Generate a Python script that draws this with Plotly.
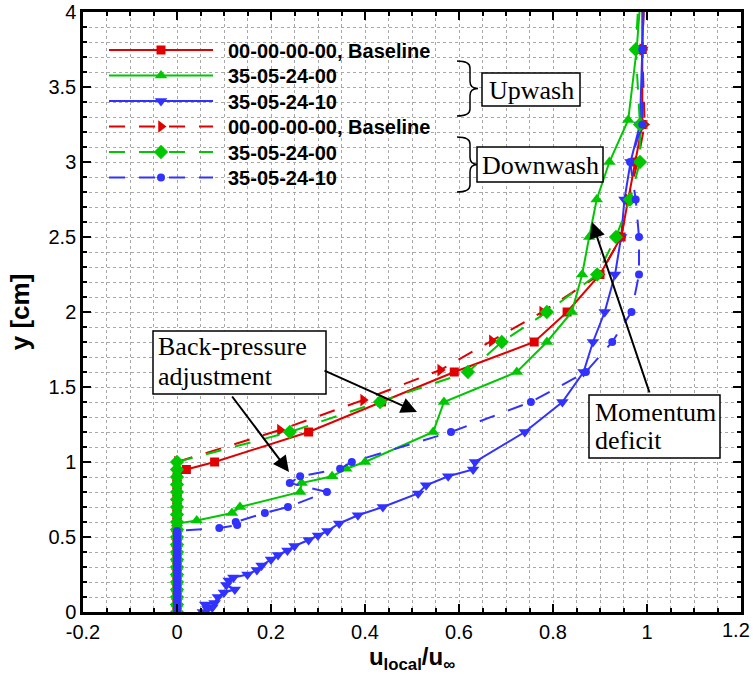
import plotly.graph_objects as go

# ---------------- data ----------------
# Upwash, 00-00-00-00 Baseline (red solid, squares)
u_base_up = [0, 0, 0, 0, 0, 0, 0, 0, 0, 0, 0, 0, 0, 0, 0, 0, 0, 0, 0,
             0.02, 0.08, 0.28, 0.435, 0.59, 0.76, 0.83, 0.90, 0.945, 0.96, 0.975, 0.99, 0.99, 0.99]
y_base_up = [0.0, 0.05, 0.1, 0.15, 0.2, 0.25, 0.3, 0.35, 0.4, 0.45, 0.5, 0.55, 0.6, 0.65, 0.7, 0.75, 0.8, 0.85, 0.9,
             0.95, 1.0, 1.2, 1.4, 1.6, 1.8, 2.0, 2.25, 2.5, 2.75, 3.0, 3.25, 3.75, 4.25]

# Upwash, 35-05-24-00 (green solid, triangles up)
u_a_up = [0, 0, 0, 0, 0, 0, 0, 0, 0, 0, 0, 0, 0,
          0.042, 0.117, 0.134, 0.262, 0.265, 0.33, 0.36, 0.40, 0.545, 0.568, 0.723, 0.787, 0.84,
          0.862, 0.877, 0.893, 0.92, 0.96, 0.978, 0.99]
y_a_up = [0.0, 0.05, 0.1, 0.15, 0.2, 0.25, 0.3, 0.35, 0.4, 0.45, 0.5, 0.55, 0.59,
          0.61, 0.66, 0.70, 0.80, 0.86, 0.905, 0.955, 1.0, 1.2, 1.4, 1.6, 1.8, 2.0,
          2.25, 2.5, 2.75, 3.0, 3.28, 3.75, 4.25]

# Upwash, 35-05-24-10 (blue solid, triangles down)
u_b_up = [0.055, 0.065, 0.075, 0.06, 0.08, 0.087, 0.10, 0.123, 0.105, 0.11, 0.12, 0.15, 0.17, 0.18,
          0.20, 0.215, 0.235, 0.25, 0.28, 0.30, 0.32, 0.345, 0.385, 0.438, 0.513, 0.53, 0.577,
          0.63, 0.634, 0.74, 0.82, 0.865, 0.885, 0.91, 0.932, 0.945, 0.952, 0.965, 0.985, 0.99, 0.995]
y_b_up = [0.0, 0.02, 0.03, 0.05, 0.06, 0.10, 0.13, 0.15, 0.18, 0.21, 0.23, 0.25, 0.28, 0.31,
          0.35, 0.38, 0.41, 0.44, 0.48, 0.51, 0.54, 0.59, 0.645, 0.70, 0.79, 0.845, 0.905,
          0.95, 1.0, 1.2, 1.4, 1.6, 1.8, 2.0, 2.25, 2.5, 2.75, 3.0, 3.25, 3.75, 4.25]

# Downwash, 00-00-00-00 Baseline (red dashed, triangles right)
u_base_dn = [0, 0, 0, 0, 0, 0, 0, 0, 0, 0, 0, 0, 0, 0, 0, 0, 0, 0, 0, 0, 0,
             0.219, 0.396, 0.56, 0.67, 0.777, 0.90, 0.945, 0.96, 0.98, 0.995, 0.99, 0.995]
y_base_dn = [0.0, 0.05, 0.1, 0.15, 0.2, 0.25, 0.3, 0.35, 0.4, 0.45, 0.5, 0.55, 0.6, 0.65, 0.7, 0.75, 0.8, 0.85, 0.9, 0.95, 1.0,
             1.213, 1.413, 1.613, 1.807, 2.0, 2.25, 2.5, 2.75, 3.0, 3.25, 3.75, 4.25]

# Downwash, 35-05-24-00 (green dashed, diamonds)
u_a_dn = [0, 0, 0, 0, 0, 0, 0, 0, 0, 0, 0, 0, 0, 0, 0, 0, 0, 0, 0, 0, 0,
          0.24, 0.432, 0.619, 0.691, 0.787, 0.894, 0.934, 0.964, 0.985, 0.985, 0.976, 0.985]
y_a_dn = [0.0, 0.05, 0.1, 0.15, 0.2, 0.25, 0.3, 0.35, 0.4, 0.45, 0.5, 0.55, 0.6, 0.65, 0.7, 0.75, 0.8, 0.85, 0.9, 0.95, 1.0,
          1.2, 1.4, 1.6, 1.8, 2.0, 2.25, 2.5, 2.75, 3.0, 3.25, 3.75, 4.25]

# Downwash, 35-05-24-10 (blue dashed, circles)
u_b_dn = [0, 0, 0, 0, 0, 0, 0, 0, 0, 0, 0, 0, 0, 0, 0, 0, 0, 0, 0, 0, 0, 0, 0, 0, 0, 0, 0, 0,
          0.09, 0.128, 0.125, 0.187, 0.236, 0.319, 0.24, 0.262, 0.347, 0.372, 0.583, 0.753, 0.87,
          0.926, 0.967, 0.983, 0.983, 0.976, 0.964, 0.99, 0.99, 0.995]
y_b_dn = [0.0, 0.02, 0.04, 0.06, 0.08, 0.10, 0.12, 0.14, 0.16, 0.18, 0.20, 0.22, 0.24, 0.26, 0.28, 0.30,
          0.32, 0.34, 0.36, 0.38, 0.40, 0.42, 0.44, 0.46, 0.48, 0.50, 0.52, 0.54,
          0.56, 0.58, 0.60, 0.66, 0.70, 0.80, 0.86, 0.905, 0.955, 1.0, 1.2, 1.4, 1.6,
          1.8, 2.0, 2.25, 2.5, 2.75, 3.0, 3.25, 3.75, 4.25]

names = ["00-00-00-00, Baseline", "35-05-24-00", "35-05-24-10",
         "00-00-00-00, Baseline", "35-05-24-00", "35-05-24-10"]

x_tick_vals = [-0.2, 0, 0.2, 0.4, 0.6, 0.8, 1.0, 1.2]
x_tick_text = ["-0.2", "0", "0.2", "0.4", "0.6", "0.8", "1", "1.2"]

RED, GREEN, BLUE = "#e00000", "#00c800", "#3232ff"
DASH = "16px,14px"

series = [
    (u_base_up, y_base_up, RED, "solid", "square", 9),
    (u_a_up, y_a_up, GREEN, "solid", "triangle-up", 11),
    (u_b_up, y_b_up, BLUE, "solid", "triangle-down", 11),
    (u_base_dn, y_base_dn, RED, DASH, "triangle-right", 11),
    (u_a_dn, y_a_dn, GREEN, DASH, "diamond", 11),
    (u_b_dn, y_b_dn, BLUE, DASH, "circle", 8),
]

# ---- layout geometry (reference pixel coordinates; page body margin removed) ----
W, H = 753, 674
PL, PR, PT, PB = 83, 741, 12, 612          # plot frame in reference pixels
L, T, R, B = PL, PT, W - PR, H - PB
PW, PH = PR - PL, PB - PT


def px2x(px):
    return -0.2 + (px - PL) / PW * 1.4


def py2y(py):
    return (PB - py) / PH * 4.0


legend_rows = [50, 75.5, 101, 126.5, 152, 177.5]
legend_ids = ["legend", "legend2", "legend3", "legend4", "legend5", "legend6"]

fig = go.Figure()
for (xs, ys, col, dash, sym, ms), nm, lid in zip(series, names, legend_ids):
    fig.add_trace(go.Scatter(
        x=xs, y=ys, name="\u2002" + nm, mode="lines+markers", legend=lid,
        line=dict(color=col, width=2, dash=dash),
        marker=dict(symbol=sym, size=ms, color=col, line=dict(width=0)),
    ))

legend_font = dict(family="Liberation Sans", size=20, color="black", weight="bold")
legend_layout = {}
for lid, row in zip(legend_ids, legend_rows):
    legend_layout[lid] = dict(x=(104 - PL) / PW, y=(PB - row) / PH, xanchor="left", yanchor="middle",
                              bgcolor="rgba(0,0,0,0)", borderwidth=0, itemwidth=104,
                              font=legend_font)

shapes = []
annotations = []
serif = dict(family="Liberation Serif", size=26, color="black")
sans = dict(family="Liberation Sans", size=20, color="black")


def box(x0, y0, x1, y1):
    shapes.append(dict(type="rect", xref="x", yref="y",
                       x0=px2x(x0), x1=px2x(x1), y0=py2y(y0), y1=py2y(y1),
                       line=dict(color="black", width=1.5), fillcolor="white", layer="above"))


def text(t, px, py, xanchor="center"):
    annotations.append(dict(text=t, x=px2x(px), y=py2y(py), xref="x", yref="y",
                            showarrow=False, font=serif, xanchor=xanchor, yanchor="middle"))


def arrow(tx, ty, hx, hy):
    annotations.append(dict(text="", x=px2x(hx), y=py2y(hy), ax=px2x(tx), ay=py2y(ty),
                            xref="x", yref="y", axref="x", ayref="y", showarrow=True,
                            arrowhead=2, arrowsize=1.6, arrowwidth=2, arrowcolor="black",
                            standoff=0, startstandoff=0))


def brace(xl, ytop, ybot):
    xm = xl + 13
    xt = xl + 21
    ymid = (ytop + ybot) / 2
    d = 7
    pts = [
        f"M{px2x(xl)},{py2y(ytop)}",
        f"Q{px2x(xm)},{py2y(ytop)} {px2x(xm)},{py2y(ytop + d)}",
        f"L{px2x(xm)},{py2y(ymid - d)}",
        f"Q{px2x(xm)},{py2y(ymid)} {px2x(xt)},{py2y(ymid)}",
        f"Q{px2x(xm)},{py2y(ymid)} {px2x(xm)},{py2y(ymid + d)}",
        f"L{px2x(xm)},{py2y(ybot - d)}",
        f"Q{px2x(xm)},{py2y(ybot)} {px2x(xl)},{py2y(ybot)}",
    ]
    shapes.append(dict(type="path", xref="x", yref="y", path=" ".join(pts),
                       line=dict(color="black", width=1.5), layer="above"))


# Upwash / Downwash
brace(457, 61, 116)
box(482, 73, 580, 106)
text("Upwash", 531, 90)
brace(457, 137, 192)
box(477, 147, 603, 182)
text("Downwash", 540, 165)

# Back-pressure adjustment
arrow(323, 370, 417, 412)
arrow(231, 395, 289, 472)
box(153, 331, 326, 394)
text("Back-pressure", 156, 346, "left")
text("adjustment", 156, 376, "left")

# Momentum deficit
arrow(650, 394, 592, 222)
box(589, 395, 720, 458)
text("Momentum", 593, 412, "left")
text("deficit", 593, 440, "left")

# last x tick label sits at the page edge: draw it right-aligned so it is not cut
x_tick_shown = x_tick_text[:-1] + [""]
annotations.append(dict(text=x_tick_text[-1], xref="paper", yref="paper",
                        x=(752 - PL) / PW, y=0, xanchor="right", yanchor="top", yshift=-5,
                        showarrow=False, font=sans))

axis_common = dict(
    ticks="inside", tickwidth=2, tickcolor="black", ticklen=8,
    showline=True, linewidth=2.5, linecolor="black", mirror="ticks",
    showgrid=True, gridcolor="#a8a8a8", griddash="dot", gridwidth=1,
    zeroline=False, automargin=False, ticklabeloverflow="allow",
    tickfont=sans,
)

fig.update_xaxes(range=[-0.2, 1.2], tickmode="array", tickvals=x_tick_vals, ticktext=x_tick_shown,
                 minor=dict(tickmode="linear", dtick=0.05, tick0=0, ticks="inside", ticklen=4, tickwidth=1.5,
                            tickcolor="black", showgrid=True, gridcolor="#a8a8a8", griddash="dot", gridwidth=1),
                 title=dict(text="<b>u<sub>local</sub>/u<sub>∞</sub></b>", standoff=2,
                            font=dict(family="Liberation Sans", size=24, color="black")),
                 **axis_common)
fig.update_yaxes(range=[0, 4], dtick=0.5, tick0=0,
                 minor=dict(dtick=0.1, tick0=0, ticks="inside", ticklen=4, tickwidth=1.5, tickcolor="black",
                            showgrid=True, gridcolor="#a8a8a8", griddash="dot", gridwidth=1),
                 title=dict(text="<b>y [cm]</b>", standoff=12,
                            font=dict(family="Liberation Sans", size=26, color="black")),
                 **axis_common)

fig.update_layout(
    width=W, height=H,
    margin=dict(l=L, r=R, t=T, b=B, autoexpand=False),
    paper_bgcolor="white", plot_bgcolor="white",
    showlegend=True,
    shapes=shapes,
    annotations=annotations,
    **legend_layout,
)

fig.write_html("out.html", config={"displayModeBar": False},
               post_script="document.body.style.margin='0px';document.body.style.overflow='hidden';")
